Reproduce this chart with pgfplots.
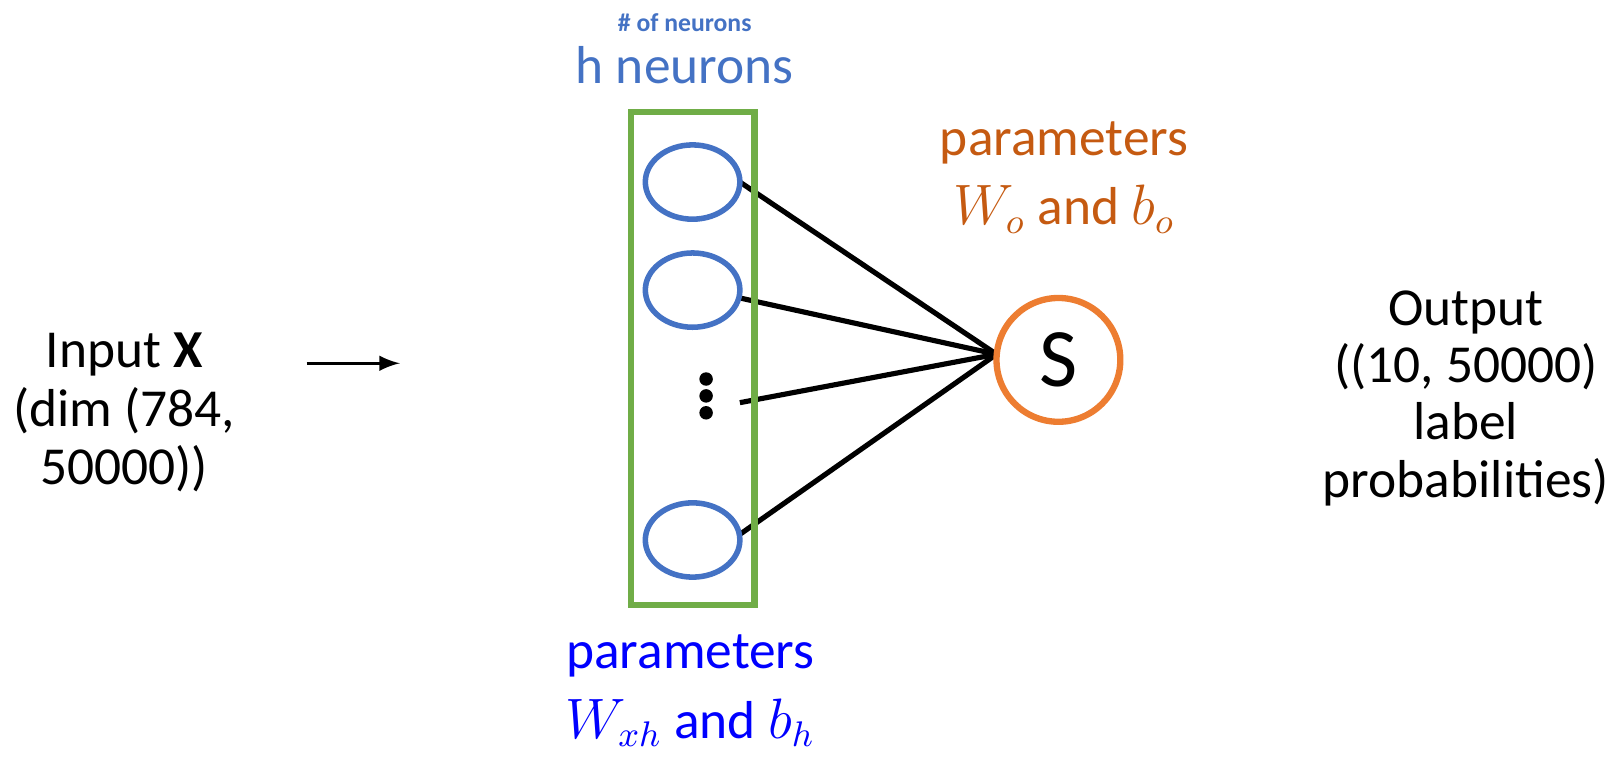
\documentclass[border=0pt]{standalone}
\usepackage{pgfplots}
\pgfplotsset{compat=1.18}
\usepackage{fontspec}
\setmainfont{Carlito}
\definecolor{nblue}{RGB}{68,114,196}
\definecolor{ngreen}{RGB}{112,173,71}
\definecolor{norange}{RGB}{237,125,49}
\definecolor{dorange}{RGB}{197,90,17}
\definecolor{pblue}{RGB}{0,0,255}
\begin{document}
\begin{tikzpicture}
\begin{axis}[width=16.22cm,height=7.56cm,scale only axis,xmin=0,xmax=1622,ymin=0,ymax=756,axis lines=none,clip=false]
\addplot[black,line width=1.3pt] coordinates {(742,574) (970,421)};
\addplot[black,line width=1.3pt] coordinates {(742,471) (970,421)};
\addplot[black,line width=1.3pt] coordinates {(742,378) (970,421)};
\addplot[black,line width=1.3pt] coordinates {(742,261) (970,421)};
\addplot[black,line width=0.8pt,-latex] coordinates {(357,413) (440,413)};
\draw[ngreen,line width=1.6pt] (645,198) rectangle (755,636);
\draw[nblue,line width=1.4pt,fill=white] (700,574) ellipse [x radius=42,y radius=33];
\draw[nblue,line width=1.4pt,fill=white] (700,478) ellipse [x radius=42,y radius=33];
\draw[nblue,line width=1.4pt,fill=white] (700,256) ellipse [x radius=42,y radius=33];
\addplot[only marks,mark=*,mark size=1.5pt,black] coordinates {(712,399) (712,384) (712,369)};
\draw[norange,line width=1.6pt,fill=white] (1025,416) ellipse [x radius=55,y radius=55];
\node[font=\fontsize{21}{24}\selectfont] at (1025,416) {S};
\node[font=\fontsize{13.5}{14.8}\selectfont,align=center] at (195,369) {Input \textbf{X}\\(dim (784,\\50000))};
\node[font=\fontsize{6.5}{8}\selectfont\bfseries,text=nblue] at (693,716) {\# of neurons};
\node[font=\fontsize{13.5}{15}\selectfont,text=nblue] at (693,678) {h neurons};
\node[font=\fontsize{13.5}{17.6}\selectfont,text=dorange,align=center] at (1030,578) {parameters\\$W_o$ and $b_o$};
\node[font=\fontsize{13.5}{17.6}\selectfont,text=pblue,align=center] at (698,122) {parameters\\$W_{xh}$ and $b_h$};
\node[font=\fontsize{13.5}{14.5}\selectfont,align=center] at (1387,382) {Output\\((10, 50000)\\label\\probabilities)};
\end{axis}
\end{tikzpicture}
\end{document}
